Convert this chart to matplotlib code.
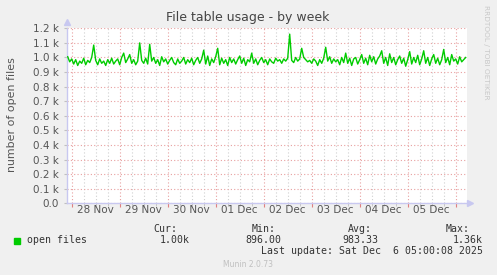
import numpy as np
import pandas as pd
import matplotlib
matplotlib.use("Agg")
import matplotlib.pyplot as plt
import matplotlib.dates as mdates
from matplotlib.ticker import FixedLocator, FuncFormatter

# Dados (leitura aproximada do gráfico, 1 ponto por hora)
open_files = [
    1005, 970, 990, 955, 985, 945, 975, 960, 995, 950, 980, 965, 1000, 1085, 980, 950, 990, 960, 975, 945,
    985, 960, 995, 955, 975, 990, 950, 1000, 1030, 965, 990, 1020, 960, 985, 950, 975, 1100, 980, 960, 995,
    955, 1090, 975, 1000, 960, 985, 945, 1005, 970, 990, 955, 980, 1000, 965, 950, 990, 960, 975, 1000, 955,
    985, 965, 995, 950, 980, 1000, 960, 990, 1050, 955, 1010, 945, 990, 965, 1005, 1063, 950, 995, 960, 985,
    945, 1000, 965, 990, 955, 985, 1010, 960, 995, 945, 985, 970, 1030, 960, 990, 950, 980, 1000, 965, 985,
    950, 990, 970, 960, 995, 975, 985, 960, 990, 975, 995, 1160, 980, 965, 1000, 975, 990, 1063, 1000, 985,
    970, 980, 960, 990, 975, 945, 985, 960, 995, 1070, 975, 1005, 960, 990, 970, 985, 950, 1000, 965, 1030,
    960, 995, 945, 990, 1000, 955, 985, 1020, 960, 995, 950, 1015, 970, 1005, 955, 990, 1010, 1046, 960, 1000,
    945, 1025, 965, 1000, 950, 985, 1010, 960, 995, 940, 985, 1040, 955, 1000, 965, 1015, 950, 990, 1046, 960,
    1000, 945, 990, 1020, 960, 995, 950, 985, 1055, 965, 1000, 950, 1020, 975, 990, 955, 1005, 970, 985, 1000,
]
times = pd.date_range("2025-11-27 22:00", periods=len(open_files), freq="h")
day_labels = ["28 Nov", "29 Nov", "30 Nov", "01 Dec", "02 Dec", "03 Dec", "04 Dec", "05 Dec"]
day_starts = pd.date_range("2025-11-28", periods=len(day_labels), freq="D")
legend_cols = ["Cur:", "Min:", "Avg:", "Max:"]
legend_vals = ["1.00k", "896.00", "983.33", "1.36k"]

bg = "#F0F0F0"
txt = "#555555"
fig = plt.figure(figsize=(4.97, 2.75), dpi=100, facecolor=bg)
ax = fig.add_axes([67 / 497, 71.7 / 275, 400 / 497, 175 / 275])
ax.set_facecolor("white")

ax.plot(times, open_files, color="#00CC00", linewidth=1.0, zorder=3)

x0 = pd.Timestamp("2025-11-27 21:39")
ax.set_xlim(x0, x0 + pd.Timedelta(hours=200))
ax.set_ylim(0, 1200)

# grade
ax.yaxis.set_major_locator(FixedLocator(np.arange(0, 1201, 100)))
ax.yaxis.set_major_formatter(FuncFormatter(lambda v, p: "0.0" if v == 0 else f"{v / 1000:.1f} k"))
ax.xaxis.set_major_locator(mdates.DayLocator())
ax.xaxis.set_minor_locator(mdates.HourLocator(byhour=[6, 12, 18]))
ax.xaxis.set_major_formatter(FuncFormatter(lambda v, p: ""))
ax.grid(True, axis="y", which="major", color="#E8A0A0", linestyle=(0, (1, 2)), linewidth=0.8)
ax.grid(True, axis="x", which="major", color="#E8A0A0", linestyle=(0, (1, 2)), linewidth=0.8)
ax.grid(True, axis="x", which="minor", color="#D0D0D0", linestyle=(0, (1, 2)), linewidth=0.8)
ax.tick_params(axis="y", length=2, color="#C0C0C0", labelsize=7.5, labelcolor=txt, pad=4)
ax.tick_params(axis="x", which="major", length=3, color="#E08080", pad=1)
ax.tick_params(axis="x", which="minor", length=2, color="#C0C0C0")

for lab, d in zip(day_labels, day_starts):
    ax.text(d + pd.Timedelta(hours=12), -14, lab, ha="center", va="top",
            fontsize=7.5, color=txt, clip_on=False)

for s in ["top", "right"]:
    ax.spines[s].set_visible(False)
for s in ["left", "bottom"]:
    ax.spines[s].set_color("#C8C8F0")
    ax.spines[s].set_linewidth(1.0)
ax.plot([0], [1.035], marker="^", color="#C8C8F0", markersize=5, transform=ax.transAxes, clip_on=False)
ax.plot([1.008], [0], marker=">", color="#C8C8F0", markersize=5, transform=ax.transAxes, clip_on=False)

# textos
fig.text(248 / 497, 1 - 18 / 275, "File table usage - by week", ha="center", va="center",
         fontsize=9, color="#444444")
fig.text(12 / 497, 1 - 115 / 275, "number of open files", rotation=90, ha="center", va="center",
         fontsize=7.9, color=txt)
fig.text(486 / 497, 1 - 52 / 275, "RRDTOOL / TOBI OETIKER", rotation=270, ha="center", va="center",
         fontsize=5.3, color="#C8C8C8")

mono = "DejaVu Sans Mono"
fig.patches.append(plt.Rectangle((14 / 497, 1 - 243.7 / 275), 6 / 497, 6 / 275,
                                 transform=fig.transFigure, color="#00CC00"))
fig.text(26.7 / 497, 1 - 240 / 275, "open files", family=mono, fontsize=7.1, color="#333333", va="center")
for lab, xr in zip(legend_cols, [177.3, 275.3, 371.7, 470]):
    fig.text(xr / 497, 1 - 228.5 / 275, lab, family=mono, fontsize=7.1, color="#333333",
             ha="right", va="center")
for val, xr in zip(legend_vals, [190, 281.7, 378.7, 482.7]):
    fig.text(xr / 497, 1 - 240 / 275, val, family=mono, fontsize=7.1, color="#333333",
             ha="right", va="center")
fig.text(482.7 / 497, 1 - 251.5 / 275, "Last update: Sat Dec  6 05:00:08 2025", family=mono,
         fontsize=7.1, color="#333333", ha="right", va="center")
fig.text(248 / 497, 1 - 264.5 / 275, "Munin 2.0.73", fontsize=5.5, color="#C0C0C0",
         ha="center", va="center")

fig.savefig("out.png", dpi=100, facecolor=bg)
